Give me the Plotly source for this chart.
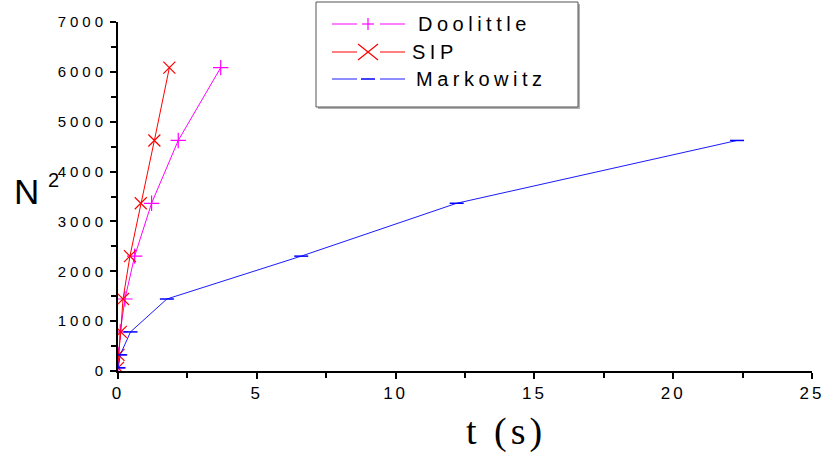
import plotly.graph_objects as go

# Problem size N^2 for N = 8, 18, ..., 78
n_squared = [64, 324, 784, 1444, 2304, 3364, 4624, 6084]

# Solve times in seconds
t_doolittle = [0.0, 0.02, 0.08, 0.25, 0.6, 1.21, 2.17, 3.7]
t_sip = [0.0, 0.02, 0.1, 0.18, 0.43, 0.82, 1.31, 1.85]
t_markowitz = [0.01, 0.08, 0.45, 1.76, 6.6, 12.2, 22.3]

series_names = ["Doolittle", "SIP", "Markowitz"]
series_colors = ["#ff00ff", "#ff0000", "#1a1aff"]

x_ticks = [0, 5, 10, 15, 20, 25]
y_ticks = [0, 1000, 2000, 3000, 4000, 5000, 6000, 7000]

# Plot area in pixels
W, H = 828, 452
ML, MR, MT, MB = 118, 16, 22, 81
PW, PH = W - ML - MR, H - MT - MB


def px(x):
    return (x - ML) / PW


def py(y):
    return (H - MB - y) / PH


def spaced(text, gap):
    return f'<span style="letter-spacing:{gap}px">{text}</span>'


fig = go.Figure()

fig.add_trace(go.Scatter(
    x=t_doolittle, y=n_squared, name=series_names[0], mode="lines+markers",
    line=dict(color=series_colors[0], width=1),
    marker=dict(symbol="cross-thin", size=11, color=series_colors[0],
                line=dict(color=series_colors[0], width=1.2)),
))
fig.add_trace(go.Scatter(
    x=t_sip, y=n_squared, name=series_names[1], mode="lines+markers",
    line=dict(color=series_colors[1], width=1),
    marker=dict(symbol="x-thin", size=12, color=series_colors[1],
                line=dict(color=series_colors[1], width=1.2)),
))
fig.add_trace(go.Scatter(
    x=t_markowitz, y=n_squared[:len(t_markowitz)], name=series_names[2],
    mode="lines+markers",
    line=dict(color=series_colors[2], width=1),
    marker=dict(symbol="line-ew", size=10, color="#0000ff",
                line=dict(color="#0000ff", width=1.5)),
))

fig.update_layout(
    width=W, height=H,
    margin=dict(l=ML, r=MR, t=MT, b=MB),
    paper_bgcolor="white", plot_bgcolor="white",
    showlegend=False,
    xaxis=dict(
        range=[0, 25], tickvals=x_ticks, automargin=False,
        ticktext=[spaced(str(v), 3) for v in x_ticks],
        showgrid=False, zeroline=False, showline=True, linecolor="black", linewidth=2,
        ticks="outside", ticklen=6, tickwidth=2, tickcolor="black",
        minor=dict(dtick=2.5, tick0=0, ticks="outside", ticklen=5, tickwidth=2,
                   tickcolor="black"),
        tickfont=dict(family="Liberation Sans, Arial", size=17, color="black"),
    ),
    yaxis=dict(
        range=[0, 7000], tickvals=y_ticks, automargin=False,
        ticktext=[spaced(str(v), 4) for v in y_ticks],
        showgrid=False, zeroline=False, showline=True, linecolor="black", linewidth=2,
        ticks="outside", ticklen=6, tickwidth=2, tickcolor="black",
        minor=dict(dtick=500, tick0=0, ticks="outside", ticklen=5, tickwidth=2,
                   tickcolor="black"),
        tickfont=dict(family="Liberation Sans, Arial", size=15, color="black"),
        ticklabelstandoff=0,
    ),
)

# Axis titles
fig.add_annotation(
    text="N", xref="paper", yref="paper", x=px(12), y=py(191),
    xanchor="left", yanchor="middle", showarrow=False,
    font=dict(family="Liberation Sans, Arial", size=35, color="black"),
)
fig.add_annotation(
    text="2", xref="paper", yref="paper", x=px(46), y=py(180),
    xanchor="left", yanchor="middle", showarrow=False,
    font=dict(family="Liberation Sans, Arial", size=20, color="black"),
)
fig.add_annotation(
    text=spaced("t (s)", 4), xref="paper", yref="paper", x=px(506), y=py(431),
    xanchor="center", yanchor="middle", showarrow=False,
    font=dict(family="Liberation Serif, Times New Roman", size=38, color="black"),
)

# Legend box with a soft shadow
shapes = [
    dict(type="rect", xref="paper", yref="paper",
         x0=px(318), x1=px(580), y0=py(4), y1=py(109),
         line=dict(width=0), fillcolor="#b0b0b0"),
    dict(type="rect", xref="paper", yref="paper",
         x0=px(316), x1=px(578), y0=py(2), y1=py(107),
         line=dict(color="#555555", width=1), fillcolor="white"),
]

legend_rows = [24, 52, 79]
text_x = [416, 410, 414]
for i, (name, color, yrow) in enumerate(zip(series_names, series_colors, legend_rows)):
    # sample line broken around the marker
    for a, b in [(332, 357), (380, 405)]:
        shapes.append(dict(type="line", xref="paper", yref="paper",
                           x0=px(a), x1=px(b), y0=py(yrow), y1=py(yrow),
                           line=dict(color=color, width=1)))
    cx = 368
    if i == 0:
        shapes.append(dict(type="line", xref="paper", yref="paper",
                           x0=px(cx - 6), x1=px(cx + 6), y0=py(yrow), y1=py(yrow),
                           line=dict(color=color, width=1.2)))
        shapes.append(dict(type="line", xref="paper", yref="paper",
                           x0=px(cx), x1=px(cx), y0=py(yrow - 6), y1=py(yrow + 6),
                           line=dict(color=color, width=1.2)))
    elif i == 1:
        shapes.append(dict(type="line", xref="paper", yref="paper",
                           x0=px(cx - 10), x1=px(cx + 10), y0=py(yrow - 8), y1=py(yrow + 8),
                           line=dict(color=color, width=1.2)))
        shapes.append(dict(type="line", xref="paper", yref="paper",
                           x0=px(cx - 10), x1=px(cx + 10), y0=py(yrow + 8), y1=py(yrow - 8),
                           line=dict(color=color, width=1.2)))
    else:
        shapes.append(dict(type="line", xref="paper", yref="paper",
                           x0=px(cx - 7), x1=px(cx + 7), y0=py(yrow), y1=py(yrow),
                           line=dict(color="#0000ff", width=1.5)))
    fig.add_annotation(
        text=spaced(name, 4.5), xref="paper", yref="paper",
        x=px(text_x[i]), y=py(yrow), xanchor="left", yanchor="middle",
        showarrow=False,
        font=dict(family="Liberation Sans, Arial", size=20, color="black"),
    )

fig.update_layout(shapes=shapes)

fig.write_html("out.html")
